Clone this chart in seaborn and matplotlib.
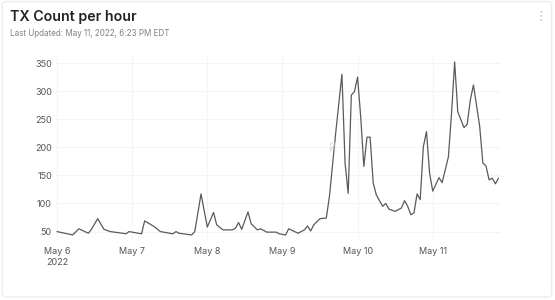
import pandas as pd
import numpy as np
import matplotlib.pyplot as plt
import matplotlib.dates as mdates
from matplotlib.patches import FancyBboxPatch
import seaborn as sns

# hours after May 6 2022 00:00, and transactions in that hour
hours = [0, 5, 7, 10, 11, 13, 15, 17, 21, 22, 23, 25, 27, 28, 31, 33, 37, 38, 39,
         43, 44, 46, 48, 50, 51, 53, 56, 57, 58, 59, 61, 62, 64, 65, 67, 70, 71,
         73, 74, 77, 79, 80, 81, 82, 84, 86, 87, 89, 91, 92, 93, 94, 95, 96, 97,
         98, 99, 100, 101, 102, 104, 105, 106, 108, 110, 111, 112, 113, 114, 115,
         116, 117, 118, 119, 120, 122, 123, 125, 126, 127, 128, 130, 131, 132,
         133, 135, 136, 137, 138, 139, 140, 141]
tx_count = [50, 44, 55, 47, 54, 73, 54, 50, 47, 46, 50, 48, 46, 69, 59, 50, 46, 50, 47,
            44, 50, 117, 58, 84, 62, 53, 53, 56, 66, 54, 85, 64, 53, 55, 49, 49, 46,
            44, 55, 47, 53, 60, 51, 62, 73, 74, 112, 225, 330, 172, 118, 293, 299, 325, 254,
            166, 218, 218, 136, 115, 95, 100, 90, 86, 92, 105, 95, 80, 83, 117,
            107, 201, 228, 154, 122, 146, 137, 183, 260, 352, 263, 235, 241, 284,
            311, 237, 172, 167, 142, 145, 135, 145]

day_ticks = ["2022-05-06", "2022-05-07", "2022-05-08", "2022-05-09", "2022-05-10", "2022-05-11"]
day_labels = ["May 6\n2022", "May 7", "May 8", "May 9", "May 10", "May 11"]
y_ticks = [50, 100, 150, 200, 250, 300, 350]

start = pd.Timestamp("2022-05-06")
df = pd.DataFrame({
    "time": start + pd.to_timedelta(hours, unit="h"),
    "count": tx_count,
})

sns.set_style("white")
plt.rcParams["font.family"] = ["Inter", "DejaVu Sans"]

fig = plt.figure(figsize=(5.55, 3.0), dpi=100)
ax = fig.add_axes([0.101, 0.2, 0.80, 0.618])

sns.lineplot(data=df, x="time", y="count", ax=ax, color="#5a5a5a", linewidth=0.9)

ax.set_xlim(start - pd.Timedelta(hours=0.3), start + pd.Timedelta(hours=141.5))
ax.set_ylim(35, 365)
ax.set_xticks(pd.to_datetime(day_ticks))
ax.set_xticklabels(day_labels, fontsize=6.5, color="#555555", linespacing=1.3)
ax.set_yticks(y_ticks)
ax.set_yticklabels([str(v) for v in y_ticks], fontsize=6.5, color="#555555")
ax.tick_params(axis="x", length=0, pad=5)
ax.tick_params(axis="y", length=0, pad=3)
ax.grid(True, color="#f4f4f4", linewidth=0.8)
ax.set_axisbelow(True)
for s in ax.spines.values():
    s.set_visible(False)
ax.set_xlabel("")
ax.set_ylabel("")

# faint hover label left in the capture
ax.text(start + pd.Timedelta(hours=88.5), 204, "112", rotation=90, fontsize=5.5,
        color="#cccccc", ha="center", va="center")

fig.text(10 / 555, 1 - 17 / 300, "TX Count per hour", fontsize=10.2, fontweight="semibold",
         color="#222222", va="center", ha="left")
fig.text(10 / 555, 1 - 33 / 300, "Last Updated: May 11, 2022, 6:23 PM EDT", fontsize=5.8,
         color="#808080", va="center", ha="left")
fig.text(541 / 555, 1 - 17 / 300, "\u22ee", fontsize=9, color="#bbbbbb", va="center", ha="center")

fig.patches.append(FancyBboxPatch((0.004, 0.01), 0.99, 0.985, boxstyle="round,pad=0,rounding_size=0.01",
                                  transform=fig.transFigure, facecolor="none",
                                  edgecolor="#ececec", linewidth=1.0))

fig.savefig("out.png", dpi=100)
